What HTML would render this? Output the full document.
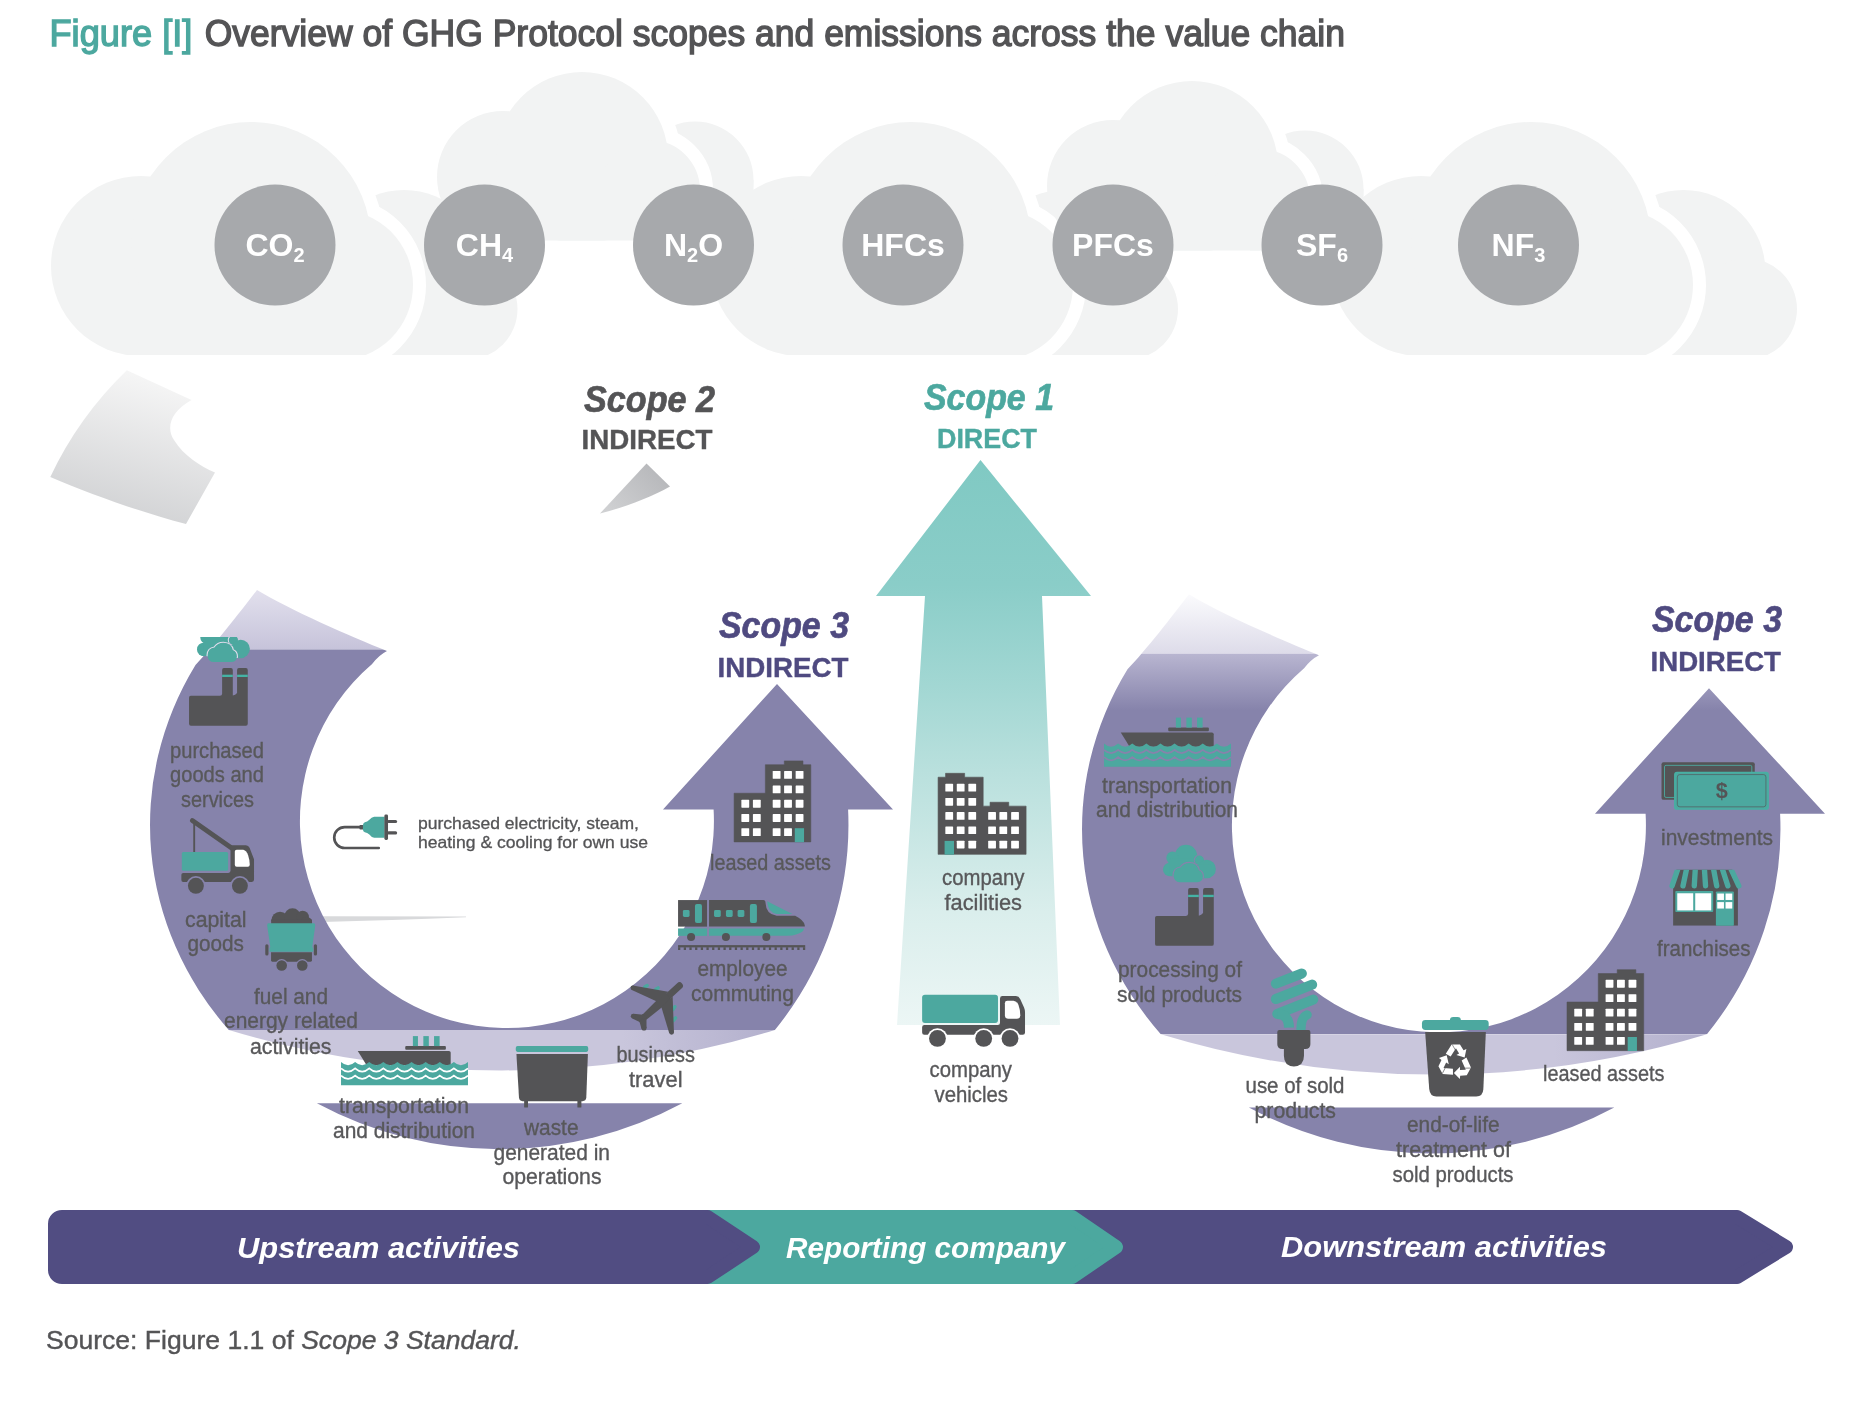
<!DOCTYPE html>
<html lang="en"><head><meta charset="utf-8">
<title>Overview of GHG Protocol scopes and emissions across the value chain</title>
<style>
html,body{margin:0;padding:0;background:#fff;}
body{width:1864px;height:1404px;overflow:hidden;font-family:"Liberation Sans", sans-serif;}
svg{display:block;will-change:transform;}
svg text{font-family:"Liberation Sans", sans-serif;}
</style></head><body>
<svg width="1864" height="1404" viewBox="0 0 1864 1404">
<defs>
<g id="cA"><circle cx="141" cy="266" r="90"/><circle cx="251" cy="242" r="120"/>
<circle cx="337.4" cy="285" r="75.6"/><rect x="141" y="250" width="196" height="120"/></g>
<g id="cB"><circle cx="404" cy="272" r="82"/><circle cx="467" cy="309" r="50.5"/>
<rect x="340" y="272" width="127" height="100"/></g>
<g id="cC"><circle cx="503" cy="177" r="66"/><circle cx="582" cy="158" r="86"/>
<circle cx="650" cy="190" r="50"/><rect x="503" y="170" width="147" height="90"/></g>
<g id="cD"><circle cx="695" cy="180" r="58.5"/><rect x="640" y="180" width="113.5" height="80"/></g>
<clipPath id="clipLow"><rect x="0" y="0" width="1864" height="355"/></clipPath>
<clipPath id="clipUp1"><rect x="0" y="0" width="1864" height="240.5"/></clipPath>
<clipPath id="clipUp2"><rect x="0" y="0" width="1864" height="250.5"/></clipPath>
<clipPath id="olA"><rect x="352" y="150" width="120" height="220"/></clipPath>
<clipPath id="olC"><rect x="655" y="90" width="90" height="170"/></clipPath>
</defs>
<g clip-path="url(#clipLow)">
<g transform="translate(0,0)"><use href="#cB" fill="#f2f3f3"/></g>
<g transform="translate(660.5,0)"><use href="#cB" fill="#f2f3f3"/></g>
<g transform="translate(1279.5,0)"><use href="#cB" fill="#f2f3f3"/></g>
</g>
<g clip-path="url(#clipUp1)"><g transform="translate(0,0)"><use href="#cD" fill="#f2f3f3"/></g></g>
<g clip-path="url(#clipUp2)"><g transform="translate(610,9)"><use href="#cD" fill="#f2f3f3"/></g></g>
<g clip-path="url(#clipLow)">
<g transform="translate(0,0)"><use href="#cA" fill="#fff" stroke="#fff" stroke-width="26" stroke-linejoin="round" clip-path="url(#olA)"/><use href="#cA" fill="#f2f3f3"/></g>
<g transform="translate(660,0)"><use href="#cA" fill="#fff" stroke="#fff" stroke-width="26" stroke-linejoin="round" clip-path="url(#olA)"/><use href="#cA" fill="#f2f3f3"/></g>
<g transform="translate(1280,0)"><use href="#cA" fill="#fff" stroke="#fff" stroke-width="26" stroke-linejoin="round" clip-path="url(#olA)"/><use href="#cA" fill="#f2f3f3"/></g>
</g>
<g clip-path="url(#clipUp1)"><g transform="translate(0,0)"><use href="#cC" fill="#fff" stroke="#fff" stroke-width="26" stroke-linejoin="round" clip-path="url(#olC)"/><use href="#cC" fill="#f2f3f3"/></g></g>
<g clip-path="url(#clipUp2)"><g transform="translate(610,9)"><use href="#cC" fill="#fff" stroke="#fff" stroke-width="26" stroke-linejoin="round" clip-path="url(#olC)"/><use href="#cC" fill="#f2f3f3"/></g></g>
<circle cx="275" cy="245" r="60.5" fill="#a7a9ac"/>
<text x="275" y="256.3" text-anchor="middle" font-size="32" font-weight="bold" fill="#fff">CO<tspan font-size="20" dy="6">2</tspan></text>
<circle cx="484.5" cy="245" r="60.5" fill="#a7a9ac"/>
<text x="484.5" y="256.3" text-anchor="middle" font-size="32" font-weight="bold" fill="#fff">CH<tspan font-size="20" dy="6">4</tspan></text>
<circle cx="693.5" cy="245" r="60.5" fill="#a7a9ac"/>
<text x="693.5" y="256.3" text-anchor="middle" font-size="32" font-weight="bold" fill="#fff">N<tspan font-size="20" dy="6">2</tspan><tspan dy="-6">O</tspan></text>
<circle cx="903" cy="245" r="60.5" fill="#a7a9ac"/>
<text x="903" y="256.3" text-anchor="middle" font-size="32" font-weight="bold" fill="#fff">HFCs</text>
<circle cx="1113" cy="245" r="60.5" fill="#a7a9ac"/>
<text x="1113" y="256.3" text-anchor="middle" font-size="32" font-weight="bold" fill="#fff">PFCs</text>
<circle cx="1322" cy="245" r="60.5" fill="#a7a9ac"/>
<text x="1322" y="256.3" text-anchor="middle" font-size="32" font-weight="bold" fill="#fff">SF<tspan font-size="20" dy="6">6</tspan></text>
<circle cx="1518.5" cy="245" r="60.5" fill="#a7a9ac"/>
<text x="1518.5" y="256.3" text-anchor="middle" font-size="32" font-weight="bold" fill="#fff">NF<tspan font-size="20" dy="6">3</tspan></text>
<defs>
<linearGradient id="gS1" gradientUnits="userSpaceOnUse" x1="0" y1="460" x2="0" y2="1025">
<stop offset="0" stop-color="#80c9c3"/><stop offset="0.22" stop-color="#8acdc8"/>
<stop offset="0.4" stop-color="#a2d7d3"/><stop offset="0.55" stop-color="#b9e0dd"/><stop offset="0.8" stop-color="#daeeec"/>
<stop offset="1" stop-color="#ecf6f5"/></linearGradient>
<linearGradient id="gTailL" gradientUnits="userSpaceOnUse" x1="0" y1="590" x2="0" y2="650">
<stop offset="0" stop-color="#e2e0ed"/><stop offset="1" stop-color="#c6c3da"/></linearGradient>
<linearGradient id="gTailR" gradientUnits="userSpaceOnUse" x1="0" y1="590" x2="0" y2="650">
<stop offset="0" stop-color="#fbfbfd"/><stop offset="1" stop-color="#dddbe9"/></linearGradient>
<linearGradient id="gBodyR" gradientUnits="userSpaceOnUse" x1="0" y1="649" x2="0" y2="706">
<stop offset="0" stop-color="#b9b6d1"/><stop offset="1" stop-color="#8683ab"/></linearGradient>
<linearGradient id="gBand" gradientUnits="userSpaceOnUse" x1="228" y1="0" x2="775" y2="0"><stop offset="0" stop-color="#c9c6dc"/><stop offset="0.72" stop-color="#c9c6dc"/><stop offset="1" stop-color="#b3b0cd"/></linearGradient>
<linearGradient id="gS2b" gradientUnits="userSpaceOnUse" x1="655" y1="470" x2="610" y2="512"><stop offset="0" stop-color="#b8b9bc"/><stop offset="1" stop-color="#cfd0d2"/></linearGradient>
<linearGradient id="gS2" gradientUnits="userSpaceOnUse" x1="150" y1="375" x2="110" y2="520">
<stop offset="0" stop-color="#f6f6f6"/><stop offset="1" stop-color="#d0d1d3"/></linearGradient>
<clipPath id="uclip"><path d="M257,590 C240,612 214,646 195.5,665 A349,324 0 0 0 228.8,1030 L774.9,1030 A349.5,334.4 0 0 0 848.1,809.5 L893,809.5 L777,684 L663,809.5 L713.6,809.5 A207,207 0 1 1 372.1,664 Q379,655 387,651 C350,636 290,610 257,590 Z"/></clipPath>
</defs>
<path d="M126.8,370.3 L191.5,400 C170,412 166,428 174,440 C184,456 200,466 215,472.5 L186,524 C140,512 90,494 50.3,477 Q78.5,417 126.8,370.3 Z" fill="url(#gS2)"/>
<path d="M646.5,463.5 L670,486.5 C650,498 622,508 600,513.5 Z" fill="url(#gS2b)"/>
<path d="M322,916.3 L466,916.6 L466,917.3 Q390,920.5 322,922 Z" fill="#d8d9db"/>
<path d="M980.5,460 L1091,596 L1042,596 L1060,1025 L897,1025 L925,596 L876,596 Z" fill="url(#gS1)"/>
<g transform="translate(0,0)"><g clip-path="url(#uclip)"><rect x="140" y="580" width="770" height="69.5" fill="url(#gTailL)"/><rect x="140" y="649.5" width="770" height="381" fill="#8683ab"/></g><path d="M228.8,1030 L774.9,1030 A943,943 0 0 1 228.8,1030 Z" fill="url(#gBand)"/><path d="M316.9,1103.3 A386.6,386.6 0 0 0 682.3,1103.3 Z" fill="#8683ab"/></g>
<g transform="translate(932,4.2)"><g clip-path="url(#uclip)"><rect x="140" y="580" width="770" height="69.5" fill="url(#gTailR)"/><rect x="140" y="649.5" width="770" height="381" fill="url(#gBodyR)"/></g><path d="M228.8,1030 L774.9,1030 A943,943 0 0 1 228.8,1030 Z" fill="url(#gBand)"/><path d="M316.9,1103.3 A386.6,386.6 0 0 0 682.3,1103.3 Z" fill="#8683ab"/></g>
<path d="M1040,1217 L1737.1,1217 L1786,1247.0 L1737.1,1277 L1040,1277 Z" fill="#514d82" stroke="#514d82" stroke-width="14" stroke-linejoin="round"/>
<path d="M690,1217 L1072.1,1217 L1116,1247.0 L1072.1,1277 L690,1277 Z" fill="#4ca89f" stroke="#4ca89f" stroke-width="14" stroke-linejoin="round"/>
<path d="M62,1217 L707.6,1217 L753,1247.0 L707.6,1277 L62,1277 A7,7 0 0 1 55,1270 L55,1224 A7,7 0 0 1 62,1217 Z" fill="#514d82" stroke="#514d82" stroke-width="14" stroke-linejoin="round"/>
<g transform="translate(1130,830) scale(0.085470)" ><clipPath id="fl1130"><circle cx="655" cy="302" r="130"/><circle cx="497" cy="325" r="72"/><circle cx="465" cy="462" r="79"/><rect x="465" y="330" width="300" height="211" rx="30"/></clipPath><clipPath id="fb1130"><circle cx="655" cy="302" r="130"/><circle cx="497" cy="325" r="72"/><circle cx="465" cy="462" r="79"/><rect x="465" y="330" width="300" height="211" rx="30"/><circle cx="812" cy="353" r="54"/><circle cx="898" cy="456" r="107"/><rect x="780" y="400" width="170" height="165" rx="40"/></clipPath><g fill="#4ca89f"><circle cx="655" cy="302" r="130"/><circle cx="497" cy="325" r="72"/><circle cx="465" cy="462" r="79"/><rect x="465" y="330" width="300" height="211" rx="30"/></g><g clip-path="url(#fl1130)" fill="none" stroke="#8683ab" stroke-width="24"><circle cx="812" cy="353" r="54"/><circle cx="898" cy="456" r="107"/><rect x="780" y="400" width="170" height="165" rx="40"/></g><g fill="#4ca89f"><circle cx="812" cy="353" r="54"/><circle cx="898" cy="456" r="107"/><rect x="780" y="400" width="170" height="165" rx="40"/></g><g clip-path="url(#fb1130)"><path d="M585,610 Q510,610 510,530 Q512,450 590,440 Q625,385 695,385 Q790,390 805,470 Q853,490 853,545 Q850,610 785,610 Z" fill="none" stroke="#8683ab" stroke-width="26"/></g><path d="M585,610 Q510,610 510,530 Q512,450 590,440 Q625,385 695,385 Q790,390 805,470 Q853,490 853,545 Q850,610 785,610 Z" fill="#4ca89f"/><path d="M313,1005 H655 Q680,1005 680,980 V702 Q680,680 702,680 H783 Q805,680 805,702 V1002 Q835,1000 855,972 V702 Q855,680 877,680 H958 Q980,680 980,702 V1333 Q980,1355 958,1355 H315 Q293,1355 293,1333 V1027 Q293,1005 313,1005 Z" fill="#545456"/><rect x="680" y="758" width="125" height="27" fill="#45b3a5"/><rect x="855" y="758" width="125" height="27" fill="#45b3a5"/></g>
<g transform="translate(164,609.9) scale(0.085470)" ><clipPath id="fc164"><rect x="0" y="318" width="1600" height="1600"/></clipPath><g clip-path="url(#fc164)"><clipPath id="fl164"><circle cx="655" cy="302" r="130"/><circle cx="497" cy="325" r="72"/><circle cx="465" cy="462" r="79"/><rect x="465" y="330" width="300" height="211" rx="30"/></clipPath><clipPath id="fb164"><circle cx="655" cy="302" r="130"/><circle cx="497" cy="325" r="72"/><circle cx="465" cy="462" r="79"/><rect x="465" y="330" width="300" height="211" rx="30"/><circle cx="812" cy="353" r="54"/><circle cx="898" cy="456" r="107"/><rect x="780" y="400" width="170" height="165" rx="40"/></clipPath><g fill="#4ca89f"><circle cx="655" cy="302" r="130"/><circle cx="497" cy="325" r="72"/><circle cx="465" cy="462" r="79"/><rect x="465" y="330" width="300" height="211" rx="30"/></g><g clip-path="url(#fl164)" fill="none" stroke="#dedbeb" stroke-width="24"><circle cx="812" cy="353" r="54"/><circle cx="898" cy="456" r="107"/><rect x="780" y="400" width="170" height="165" rx="40"/></g><g fill="#4ca89f"><circle cx="812" cy="353" r="54"/><circle cx="898" cy="456" r="107"/><rect x="780" y="400" width="170" height="165" rx="40"/></g><g clip-path="url(#fb164)"><path d="M585,610 Q510,610 510,530 Q512,450 590,440 Q625,385 695,385 Q790,390 805,470 Q853,490 853,545 Q850,610 785,610 Z" fill="none" stroke="#dedbeb" stroke-width="26"/></g><path d="M585,610 Q510,610 510,530 Q512,450 590,440 Q625,385 695,385 Q790,390 805,470 Q853,490 853,545 Q850,610 785,610 Z" fill="#4ca89f"/></g><path d="M313,1005 H655 Q680,1005 680,980 V702 Q680,680 702,680 H783 Q805,680 805,702 V1002 Q835,1000 855,972 V702 Q855,680 877,680 H958 Q980,680 980,702 V1333 Q980,1355 958,1355 H315 Q293,1355 293,1333 V1027 Q293,1005 313,1005 Z" fill="#545456"/><rect x="680" y="758" width="125" height="27" fill="#45b3a5"/><rect x="855" y="758" width="125" height="27" fill="#45b3a5"/></g>
<g transform="translate(160,805) scale(0.085470)" ><line x1="378" y1="182" x2="850" y2="512" stroke="#545456" stroke-width="56" stroke-linecap="round"/><line x1="400" y1="200" x2="400" y2="560" stroke="#545456" stroke-width="22"/><rect x="255" y="550" width="542" height="220" rx="18" fill="#4ca89f"/><path d="M272,795 H800 Q825,795 825,770 V497 Q825,470 852,470 H1005 Q1035,470 1048,500 L1100,635 V875 Q1100,900 1075,900 H272 Q250,900 250,878 V817 Q250,795 272,795Z" fill="#545456"/><circle cx="420" cy="945" r="114" fill="#8683ab"/><circle cx="935" cy="945" r="114" fill="#8683ab"/><circle cx="420" cy="945" r="93" fill="#545456"/><circle cx="935" cy="945" r="93" fill="#545456"/><path d="M897,525 H975 Q1012,535 1032,590 Q1050,640 1050,700 Q1050,722 1028,722 H897 Q875,722 875,700 V547 Q875,525 897,525Z" fill="#fff"/></g>
<g transform="translate(235,895) scale(0.064392)" ><g fill="#545456"><circle cx="700" cy="395" r="135"/><circle cx="893" cy="335" r="128"/><circle cx="1050" cy="342" r="98"/><circle cx="1108" cy="425" r="88"/><rect x="562" y="380" width="633" height="75"/><path d="M560,890 H1195 V1015 Q1195,1035 1175,1035 H580 Q560,1035 560,1015 Z"/><rect x="470" y="765" width="50" height="175" rx="25"/><rect x="1224" y="765" width="50" height="175" rx="25"/></g><path d="M522,440 H1222 Q1250,440 1246,478 L1200,805 L1215,830 V880 H535 V830 L548,805 L500,478 Q496,440 522,440Z" fill="#4ca89f"/><circle cx="725" cy="1095" r="100" fill="#8683ab"/><circle cx="1045" cy="1095" r="100" fill="#8683ab"/><circle cx="725" cy="1095" r="82" fill="#545456"/><circle cx="1045" cy="1095" r="82" fill="#545456"/></g>
<g transform="translate(330,1025) scale(0.080470)" ><path d="M345,322 H1478 Q1500,322 1500,345 V500 H455 Z" fill="#545456"/><rect x="935" y="262" width="505" height="46" rx="12" fill="#545456"/><rect x="1030" y="138" width="63" height="124" fill="#4ca89f"/><rect x="1160" y="138" width="68" height="124" fill="#4ca89f"/><rect x="1293" y="138" width="69" height="124" fill="#4ca89f"/><path d="M137,460 q87.7,80 175.3,0 q87.7,80 175.3,0 q87.7,80 175.3,0 q87.7,80 175.3,0 q87.7,80 175.3,0 q87.7,80 175.3,0 q87.7,80 175.3,0 q87.7,80 175.3,0 q87.7,80 175.3,0 V750 H137 Z" fill="#4ca89f"/><path d="M137,540 q87.7,80 175.3,0 q87.7,80 175.3,0 q87.7,80 175.3,0 q87.7,80 175.3,0 q87.7,80 175.3,0 q87.7,80 175.3,0 q87.7,80 175.3,0 q87.7,80 175.3,0 q87.7,80 175.3,0" fill="none" stroke="#fff" stroke-width="22"/><path d="M137,630 q87.7,80 175.3,0 q87.7,80 175.3,0 q87.7,80 175.3,0 q87.7,80 175.3,0 q87.7,80 175.3,0 q87.7,80 175.3,0 q87.7,80 175.3,0 q87.7,80 175.3,0 q87.7,80 175.3,0" fill="none" stroke="#fff" stroke-width="22"/></g>
<g transform="translate(1093,706.5) scale(0.080470)" ><path d="M345,322 H1478 Q1500,322 1500,345 V500 H455 Z" fill="#545456"/><rect x="935" y="262" width="505" height="46" rx="12" fill="#545456"/><rect x="1030" y="138" width="63" height="124" fill="#4ca89f"/><rect x="1160" y="138" width="68" height="124" fill="#4ca89f"/><rect x="1293" y="138" width="69" height="124" fill="#4ca89f"/><path d="M137,460 q87.7,80 175.3,0 q87.7,80 175.3,0 q87.7,80 175.3,0 q87.7,80 175.3,0 q87.7,80 175.3,0 q87.7,80 175.3,0 q87.7,80 175.3,0 q87.7,80 175.3,0 q87.7,80 175.3,0 V750 H137 Z" fill="#4ca89f"/><path d="M137,540 q87.7,80 175.3,0 q87.7,80 175.3,0 q87.7,80 175.3,0 q87.7,80 175.3,0 q87.7,80 175.3,0 q87.7,80 175.3,0 q87.7,80 175.3,0 q87.7,80 175.3,0 q87.7,80 175.3,0" fill="none" stroke="#8683ab" stroke-width="22"/><path d="M137,630 q87.7,80 175.3,0 q87.7,80 175.3,0 q87.7,80 175.3,0 q87.7,80 175.3,0 q87.7,80 175.3,0 q87.7,80 175.3,0 q87.7,80 175.3,0 q87.7,80 175.3,0 q87.7,80 175.3,0" fill="none" stroke="#8683ab" stroke-width="22"/></g>
<g transform="translate(500,1030) scale(0.064392)" ><rect x="245" y="250" width="1125" height="90" rx="28" fill="#4ca89f"/><path d="M255,372 H1365 L1340,1050 Q1335,1105 1280,1105 H350 Q300,1105 295,1050 Z" fill="#545456"/><rect x="375" y="1090" width="60" height="115" rx="10" fill="#545456"/><rect x="1202" y="1090" width="62" height="115" rx="10" fill="#545456"/></g>
<g transform="translate(610,965) scale(0.060533)" ><g stroke="#4ca89f" stroke-width="58" stroke-linecap="round"><line x1="575" y1="365" x2="615" y2="340"/><line x1="755" y1="405" x2="795" y2="378"/><line x1="1040" y1="735" x2="1072" y2="690"/><line x1="1045" y1="920" x2="1082" y2="875"/></g><g fill="#545456"><line x1="1148" y1="342" x2="900" y2="570" stroke="#545456" stroke-width="112" stroke-linecap="round"/><path d="M905,450 L1015,575 L600,905 L530,828 Z"/><path d="M535,810 L615,880 L480,945 Z"/><path d="M960,440 L378,338 L352,408 L775,605 Z"/><circle cx="376" cy="374" r="37"/><path d="M1035,515 L1056,1108 L978,1122 L848,695 Z"/><circle cx="1017" cy="1112" r="40"/><path d="M555,822 L388,806 L368,882 L498,945 Z"/><circle cx="384" cy="845" r="40"/><path d="M603,872 L603,1042 L520,1052 L485,930 Z"/><circle cx="562" cy="1042" r="42"/></g></g>
<g transform="translate(668,890) scale(0.080470)" ><rect x="125" y="125" width="360" height="330" fill="#545456"/><path d="M510,125 H1185 Q1210,125 1212,160 Q1218,300 1350,320 H1580 Q1690,375 1700,440 V455 H510 Z" fill="#545456"/><rect x="125" y="478" width="360" height="92" fill="#4ca89f"/><path d="M510,478 H1690 Q1690,520 1600,550 Q1550,570 1480,570 H510 Z" fill="#4ca89f"/><path d="M1232,140 L1545,298 H1350 Q1240,280 1232,140 Z" fill="#4ca89f"/><rect x="185" y="250" width="83" height="85" rx="18" fill="#4ca89f"/><rect x="335" y="175" width="87" height="235" rx="24" fill="#4ca89f"/><rect x="572" y="250" width="84" height="85" rx="18" fill="#4ca89f"/><rect x="720" y="250" width="84" height="85" rx="18" fill="#4ca89f"/><rect x="865" y="250" width="84" height="85" rx="18" fill="#4ca89f"/><rect x="1018" y="175" width="87" height="235" rx="24" fill="#4ca89f"/><circle cx="287" cy="583" r="50" fill="#545456"/><circle cx="720" cy="583" r="50" fill="#545456"/><circle cx="1222" cy="583" r="50" fill="#545456"/><rect x="125" y="685" width="1580" height="28" fill="#545456"/><line x1="125" y1="728" x2="1705" y2="728" stroke="#545456" stroke-width="34" stroke-dasharray="28 42.55"/></g>
<g transform="translate(720,750) scale(0.071225)" ><path d="M198,607 H637 V207 H903 V153 H1165 V207 H1275 V1290 H198 Z" fill="#545456" stroke="#545456" stroke-width="8" stroke-linejoin="round"/><rect x="740" y="295" width="110" height="110" rx="8" fill="#fff"/><rect x="900" y="295" width="110" height="110" rx="8" fill="#fff"/><rect x="1062" y="295" width="110" height="110" rx="8" fill="#fff"/><rect x="740" y="497" width="110" height="110" rx="8" fill="#fff"/><rect x="900" y="497" width="110" height="110" rx="8" fill="#fff"/><rect x="1062" y="497" width="110" height="110" rx="8" fill="#fff"/><rect x="740" y="700" width="110" height="110" rx="8" fill="#fff"/><rect x="900" y="700" width="110" height="110" rx="8" fill="#fff"/><rect x="1062" y="700" width="110" height="110" rx="8" fill="#fff"/><rect x="740" y="900" width="110" height="110" rx="8" fill="#fff"/><rect x="900" y="900" width="110" height="110" rx="8" fill="#fff"/><rect x="1062" y="900" width="110" height="110" rx="8" fill="#fff"/><rect x="740" y="1098" width="110" height="110" rx="8" fill="#fff"/><rect x="900" y="1098" width="110" height="110" rx="8" fill="#fff"/><rect x="300" y="700" width="110" height="110" rx="8" fill="#fff"/><rect x="462" y="700" width="110" height="110" rx="8" fill="#fff"/><rect x="300" y="900" width="110" height="110" rx="8" fill="#fff"/><rect x="462" y="900" width="110" height="110" rx="8" fill="#fff"/><rect x="300" y="1098" width="110" height="110" rx="8" fill="#fff"/><rect x="462" y="1098" width="110" height="110" rx="8" fill="#fff"/><rect x="1050" y="1098" width="130" height="196" fill="#4ca89f"/></g>
<g transform="translate(1552.9,958.8) scale(0.071225)" ><path d="M198,607 H637 V207 H903 V153 H1165 V207 H1275 V1290 H198 Z" fill="#545456" stroke="#545456" stroke-width="8" stroke-linejoin="round"/><rect x="740" y="295" width="110" height="110" rx="8" fill="#fff"/><rect x="900" y="295" width="110" height="110" rx="8" fill="#fff"/><rect x="1062" y="295" width="110" height="110" rx="8" fill="#fff"/><rect x="740" y="497" width="110" height="110" rx="8" fill="#fff"/><rect x="900" y="497" width="110" height="110" rx="8" fill="#fff"/><rect x="1062" y="497" width="110" height="110" rx="8" fill="#fff"/><rect x="740" y="700" width="110" height="110" rx="8" fill="#fff"/><rect x="900" y="700" width="110" height="110" rx="8" fill="#fff"/><rect x="1062" y="700" width="110" height="110" rx="8" fill="#fff"/><rect x="740" y="900" width="110" height="110" rx="8" fill="#fff"/><rect x="900" y="900" width="110" height="110" rx="8" fill="#fff"/><rect x="1062" y="900" width="110" height="110" rx="8" fill="#fff"/><rect x="740" y="1098" width="110" height="110" rx="8" fill="#fff"/><rect x="900" y="1098" width="110" height="110" rx="8" fill="#fff"/><rect x="300" y="700" width="110" height="110" rx="8" fill="#fff"/><rect x="462" y="700" width="110" height="110" rx="8" fill="#fff"/><rect x="300" y="900" width="110" height="110" rx="8" fill="#fff"/><rect x="462" y="900" width="110" height="110" rx="8" fill="#fff"/><rect x="300" y="1098" width="110" height="110" rx="8" fill="#fff"/><rect x="462" y="1098" width="110" height="110" rx="8" fill="#fff"/><rect x="1050" y="1098" width="130" height="196" fill="#4ca89f"/></g>
<g transform="translate(925,760) scale(0.074772)" ><path d="M175,230 H275 V178 H530 V230 H778 V617 H870 V565 H1120 V617 H1352 V1262 H175 Z" fill="#545456" stroke="#545456" stroke-width="8" stroke-linejoin="round"/><rect x="272" y="318" width="104" height="103" rx="8" fill="#fff"/><rect x="425" y="318" width="104" height="103" rx="8" fill="#fff"/><rect x="580" y="318" width="104" height="103" rx="8" fill="#fff"/><rect x="272" y="508" width="104" height="103" rx="8" fill="#fff"/><rect x="425" y="508" width="104" height="103" rx="8" fill="#fff"/><rect x="580" y="508" width="104" height="103" rx="8" fill="#fff"/><rect x="272" y="697" width="104" height="103" rx="8" fill="#fff"/><rect x="425" y="697" width="104" height="103" rx="8" fill="#fff"/><rect x="580" y="697" width="104" height="103" rx="8" fill="#fff"/><rect x="272" y="888" width="104" height="103" rx="8" fill="#fff"/><rect x="425" y="888" width="104" height="103" rx="8" fill="#fff"/><rect x="580" y="888" width="104" height="103" rx="8" fill="#fff"/><rect x="425" y="1080" width="104" height="103" rx="8" fill="#fff"/><rect x="580" y="1080" width="104" height="103" rx="8" fill="#fff"/><rect x="845" y="697" width="104" height="103" rx="8" fill="#fff"/><rect x="995" y="697" width="104" height="103" rx="8" fill="#fff"/><rect x="1152" y="697" width="104" height="103" rx="8" fill="#fff"/><rect x="845" y="888" width="104" height="103" rx="8" fill="#fff"/><rect x="995" y="888" width="104" height="103" rx="8" fill="#fff"/><rect x="1152" y="888" width="104" height="103" rx="8" fill="#fff"/><rect x="845" y="1080" width="104" height="103" rx="8" fill="#fff"/><rect x="995" y="1080" width="104" height="103" rx="8" fill="#fff"/><rect x="1152" y="1080" width="104" height="103" rx="8" fill="#fff"/><rect x="262" y="1082" width="126" height="184" fill="#4ca89f"/></g>
<g transform="translate(905,980) scale(0.075109)" ><rect x="228" y="197" width="1010" height="375" rx="38" fill="#4ca89f"/><path d="M258,600 H1235 Q1265,600 1265,570 V245 Q1265,212 1298,212 H1475 Q1515,212 1535,255 L1585,365 Q1598,395 1598,430 V698 Q1598,728 1568,728 H258 Q228,728 228,698 V630 Q228,600 258,600Z" fill="#545456"/><path d="M1362,275 H1445 Q1490,280 1510,330 Q1535,400 1535,470 Q1535,515 1490,515 H1375 Q1330,515 1330,470 V308 Q1330,275 1362,275 Z" fill="#fff"/><circle cx="432" cy="778" r="136" fill="#fff"/><circle cx="1048" cy="778" r="136" fill="#fff"/><circle cx="1398" cy="778" r="136" fill="#fff"/><circle cx="432" cy="778" r="112" fill="#545456"/><circle cx="1048" cy="778" r="112" fill="#545456"/><circle cx="1398" cy="778" r="112" fill="#545456"/></g>
<g transform="translate(320,800) scale(0.053648)" ><path d="M770,505 H460 A195,195 0 0 0 460,895 H1095" fill="none" stroke="#545456" stroke-width="50" stroke-linecap="round"/><rect x="735" y="465" width="80" height="85" rx="18" fill="#545456"/><path d="M1205,310 H1010 Q960,315 920,370 Q880,410 835,415 Q800,430 800,470 V550 Q800,590 835,600 Q880,605 920,645 Q960,700 1010,705 H1205 Z" fill="#4ca89f"/><rect x="1200" y="270" width="68" height="475" rx="26" fill="#545456"/><rect x="1250" y="372" width="188" height="58" rx="28" fill="#545456"/><rect x="1250" y="583" width="188" height="59" rx="28" fill="#545456"/></g>
<g transform="translate(1245,955) scale(0.085470)" ><g stroke="#4ca89f" stroke-width="118" stroke-linecap="round" fill="none"><line x1="362" y1="335" x2="665" y2="217"/><line x1="362" y1="515" x2="785" y2="347"/><line x1="378" y1="690" x2="798" y2="522"/><path d="M378,690 C470,695 512,740 515,850" stroke-linecap="butt"/><path d="M727,700 C685,715 655,765 655,870" stroke-width="108"/></g><rect x="440" y="820" width="280" height="70" fill="none"/><path d="M402,878 H743 Q765,878 765,900 V1045 Q765,1100 705,1100 H690 V1180 Q690,1300 572,1305 Q455,1300 455,1180 V1100 H438 Q378,1100 378,1045 V900 Q378,878 402,878 Z" fill="#545456"/></g>
<g transform="translate(1405,1005) scale(0.071225)" ><rect x="630" y="168" width="155" height="100" rx="48" fill="#4ca89f"/><rect x="238" y="212" width="937" height="138" rx="48" fill="#4ca89f"/><path d="M283,380 H1135 L1100,1180 Q1095,1285 1000,1285 H440 Q350,1285 340,1180 Z" fill="#545456"/><g transform="translate(703,800) scale(0.93,1)"><g transform="rotate(0)"><path d="M-140,-117 L-52,-247 L74,-247 L128,-163 L171,-182 L144,-63 L20,-98 L61,-120 L13,-194 L-67,-76 Z" fill="#fff"/><path d="M-44,-247 L30,-124" stroke="#545456" stroke-width="9" fill="none"/></g><g transform="rotate(120)"><path d="M-140,-117 L-52,-247 L74,-247 L128,-163 L171,-182 L144,-63 L20,-98 L61,-120 L13,-194 L-67,-76 Z" fill="#fff"/><path d="M-44,-247 L30,-124" stroke="#545456" stroke-width="9" fill="none"/></g><g transform="rotate(240)"><path d="M-140,-117 L-52,-247 L74,-247 L128,-163 L171,-182 L144,-63 L20,-98 L61,-120 L13,-194 L-67,-76 Z" fill="#fff"/><path d="M-44,-247 L30,-124" stroke="#545456" stroke-width="9" fill="none"/></g></g></g>
<g transform="translate(1655,860) scale(0.053648)" ><rect x="338" y="500" width="1207" height="722" fill="#545456"/><path d="M400,180 H1440 L1570,520 H310 Z" fill="#545456"/><clipPath id="shopclip"><rect x="0" y="180" width="1900" height="1200"/></clipPath><g clip-path="url(#shopclip)"><line x1="432" y1="150" x2="318" y2="482" stroke="#4ca89f" stroke-width="100" stroke-linecap="round"/><line x1="592" y1="150" x2="522" y2="482" stroke="#4ca89f" stroke-width="100" stroke-linecap="round"/><line x1="752" y1="150" x2="732" y2="482" stroke="#4ca89f" stroke-width="100" stroke-linecap="round"/><line x1="920" y1="150" x2="942" y2="482" stroke="#4ca89f" stroke-width="100" stroke-linecap="round"/><line x1="1088" y1="150" x2="1150" y2="482" stroke="#4ca89f" stroke-width="100" stroke-linecap="round"/><line x1="1250" y1="150" x2="1358" y2="482" stroke="#4ca89f" stroke-width="100" stroke-linecap="round"/><line x1="1408" y1="150" x2="1562" y2="482" stroke="#4ca89f" stroke-width="100" stroke-linecap="round"/></g><rect x="378" y="580" width="707" height="388" rx="16" fill="#4ca89f"/><rect x="415" y="620" width="297" height="320" fill="#fff"/><rect x="750" y="620" width="298" height="320" fill="#fff"/><rect x="1135" y="585" width="335" height="640" rx="16" fill="#4ca89f"/><rect x="1160" y="625" width="125" height="120" fill="#fff"/><rect x="1160" y="785" width="125" height="120" fill="#fff"/><rect x="1315" y="625" width="125" height="120" fill="#fff"/><rect x="1315" y="785" width="125" height="120" fill="#fff"/></g>
<g transform="translate(1650,750) scale(0.069745)" ><rect x="165" y="175" width="1337" height="540" rx="28" fill="#545456"/><rect x="208" y="220" width="1252" height="460" rx="22" fill="none" stroke="#4ca89f" stroke-width="13"/><rect x="345" y="312" width="1360" height="546" rx="42" fill="#47b0a3"/><rect x="365" y="330" width="1320" height="510" rx="38" fill="#4ca89f"/><rect x="392" y="352" width="1270" height="463" rx="36" fill="none" stroke="#545456" stroke-width="9"/><text x="1030" y="690" text-anchor="middle" font-size="310" font-weight="bold" fill="#545456">$</text></g>
<text x="49.5" y="46.0" font-size="36.5" fill="#4ca89f" font-weight="normal" font-style="normal" textLength="142.8" lengthAdjust="spacingAndGlyphs" stroke="#4ca89f" stroke-width="1.4">Figure [I]</text>
<text x="204.7" y="46.0" font-size="36.5" fill="#545456" font-weight="normal" font-style="normal" textLength="1140.3" lengthAdjust="spacingAndGlyphs" stroke="#545456" stroke-width="1.4">Overview of GHG Protocol scopes and emissions across the value chain</text>
<text x="46" y="1348.5" font-size="26" fill="#545456" stroke="#545456" stroke-width="0.4" textLength="475" lengthAdjust="spacingAndGlyphs">Source: Figure 1.1 of <tspan font-style="italic">Scope 3 Standard.</tspan></text>
<text x="584.0" y="411.5" font-size="37" fill="#545456" font-weight="bold" font-style="italic" textLength="131.0" lengthAdjust="spacingAndGlyphs" stroke="#545456" stroke-width="0.7">Scope 2</text>
<text x="581.5" y="449.0" font-size="28" fill="#545456" font-weight="bold" font-style="normal" textLength="131.0" lengthAdjust="spacingAndGlyphs" stroke="#545456" stroke-width="0.4">INDIRECT</text>
<text x="924.0" y="410.0" font-size="37" fill="#4ca89f" font-weight="bold" font-style="italic" textLength="130.0" lengthAdjust="spacingAndGlyphs" stroke="#4ca89f" stroke-width="0.7">Scope 1</text>
<text x="937.0" y="448.0" font-size="28" fill="#4ca89f" font-weight="bold" font-style="normal" textLength="100.0" lengthAdjust="spacingAndGlyphs" stroke="#4ca89f" stroke-width="0.4">DIRECT</text>
<text x="719.0" y="638.0" font-size="37" fill="#4f4a80" font-weight="bold" font-style="italic" textLength="130.0" lengthAdjust="spacingAndGlyphs" stroke="#4f4a80" stroke-width="0.7">Scope 3</text>
<text x="717.5" y="676.5" font-size="28" fill="#4f4a80" font-weight="bold" font-style="normal" textLength="131.0" lengthAdjust="spacingAndGlyphs" stroke="#4f4a80" stroke-width="0.4">INDIRECT</text>
<text x="1652.0" y="632.0" font-size="37" fill="#4f4a80" font-weight="bold" font-style="italic" textLength="130.0" lengthAdjust="spacingAndGlyphs" stroke="#4f4a80" stroke-width="0.7">Scope 3</text>
<text x="1650.5" y="671.0" font-size="28" fill="#4f4a80" font-weight="bold" font-style="normal" textLength="130.5" lengthAdjust="spacingAndGlyphs" stroke="#4f4a80" stroke-width="0.4">INDIRECT</text>
<text x="237.0" y="1258.0" font-size="30" fill="#fff" font-weight="bold" font-style="italic" textLength="283.0" lengthAdjust="spacingAndGlyphs" >Upstream activities</text>
<text x="786.0" y="1258.0" font-size="30" fill="#fff" font-weight="bold" font-style="italic" textLength="279.0" lengthAdjust="spacingAndGlyphs" >Reporting company</text>
<text x="1281.0" y="1257.0" font-size="30" fill="#fff" font-weight="bold" font-style="italic" textLength="326.0" lengthAdjust="spacingAndGlyphs" >Downstream activities</text>
<text x="170.0" y="757.5" font-size="21.5" fill="#58585a" font-weight="normal" font-style="normal" textLength="94.0" lengthAdjust="spacingAndGlyphs" stroke="#58585a" stroke-width="0.35">purchased</text>
<text x="170.0" y="781.5" font-size="21.5" fill="#58585a" font-weight="normal" font-style="normal" textLength="94.0" lengthAdjust="spacingAndGlyphs" stroke="#58585a" stroke-width="0.35">goods and</text>
<text x="181.0" y="806.5" font-size="21.5" fill="#58585a" font-weight="normal" font-style="normal" textLength="73.0" lengthAdjust="spacingAndGlyphs" stroke="#58585a" stroke-width="0.35">services</text>
<text x="185.0" y="927.0" font-size="21.5" fill="#58585a" font-weight="normal" font-style="normal" textLength="61.5" lengthAdjust="spacingAndGlyphs" stroke="#58585a" stroke-width="0.35">capital</text>
<text x="187.5" y="950.5" font-size="21.5" fill="#58585a" font-weight="normal" font-style="normal" textLength="56.5" lengthAdjust="spacingAndGlyphs" stroke="#58585a" stroke-width="0.35">goods</text>
<text x="254.0" y="1003.5" font-size="21.5" fill="#58585a" font-weight="normal" font-style="normal" textLength="74.0" lengthAdjust="spacingAndGlyphs" stroke="#58585a" stroke-width="0.35">fuel and</text>
<text x="224.0" y="1028.0" font-size="21.5" fill="#58585a" font-weight="normal" font-style="normal" textLength="134.0" lengthAdjust="spacingAndGlyphs" stroke="#58585a" stroke-width="0.35">energy related</text>
<text x="250.0" y="1053.5" font-size="21.5" fill="#58585a" font-weight="normal" font-style="normal" textLength="81.5" lengthAdjust="spacingAndGlyphs" stroke="#58585a" stroke-width="0.35">activities</text>
<text x="339.0" y="1112.5" font-size="21.5" fill="#58585a" font-weight="normal" font-style="normal" textLength="130.0" lengthAdjust="spacingAndGlyphs" stroke="#58585a" stroke-width="0.35">transportation</text>
<text x="333.0" y="1137.5" font-size="21.5" fill="#58585a" font-weight="normal" font-style="normal" textLength="142.0" lengthAdjust="spacingAndGlyphs" stroke="#58585a" stroke-width="0.35">and distribution</text>
<text x="524.0" y="1135.0" font-size="21.5" fill="#58585a" font-weight="normal" font-style="normal" textLength="54.5" lengthAdjust="spacingAndGlyphs" stroke="#58585a" stroke-width="0.35">waste</text>
<text x="493.5" y="1159.5" font-size="21.5" fill="#58585a" font-weight="normal" font-style="normal" textLength="116.5" lengthAdjust="spacingAndGlyphs" stroke="#58585a" stroke-width="0.35">generated in</text>
<text x="502.5" y="1184.0" font-size="21.5" fill="#58585a" font-weight="normal" font-style="normal" textLength="99.0" lengthAdjust="spacingAndGlyphs" stroke="#58585a" stroke-width="0.35">operations</text>
<text x="616.5" y="1061.5" font-size="21.5" fill="#58585a" font-weight="normal" font-style="normal" textLength="78.5" lengthAdjust="spacingAndGlyphs" stroke="#58585a" stroke-width="0.35">business</text>
<text x="629.0" y="1086.5" font-size="21.5" fill="#58585a" font-weight="normal" font-style="normal" textLength="53.5" lengthAdjust="spacingAndGlyphs" stroke="#58585a" stroke-width="0.35">travel</text>
<text x="697.5" y="976.0" font-size="21.5" fill="#58585a" font-weight="normal" font-style="normal" textLength="90.0" lengthAdjust="spacingAndGlyphs" stroke="#58585a" stroke-width="0.35">employee</text>
<text x="691.0" y="1000.5" font-size="21.5" fill="#58585a" font-weight="normal" font-style="normal" textLength="103.0" lengthAdjust="spacingAndGlyphs" stroke="#58585a" stroke-width="0.35">commuting</text>
<text x="710.0" y="870.0" font-size="21.5" fill="#58585a" font-weight="normal" font-style="normal" textLength="121.0" lengthAdjust="spacingAndGlyphs" stroke="#58585a" stroke-width="0.35">leased assets</text>
<text x="942.0" y="885.0" font-size="21.5" fill="#58585a" font-weight="normal" font-style="normal" textLength="82.5" lengthAdjust="spacingAndGlyphs" stroke="#58585a" stroke-width="0.35">company</text>
<text x="944.5" y="910.0" font-size="21.5" fill="#58585a" font-weight="normal" font-style="normal" textLength="77.5" lengthAdjust="spacingAndGlyphs" stroke="#58585a" stroke-width="0.35">facilities</text>
<text x="929.5" y="1076.5" font-size="21.5" fill="#58585a" font-weight="normal" font-style="normal" textLength="82.5" lengthAdjust="spacingAndGlyphs" stroke="#58585a" stroke-width="0.35">company</text>
<text x="934.5" y="1101.5" font-size="21.5" fill="#58585a" font-weight="normal" font-style="normal" textLength="73.5" lengthAdjust="spacingAndGlyphs" stroke="#58585a" stroke-width="0.35">vehicles</text>
<text x="1102.0" y="792.5" font-size="21.5" fill="#58585a" font-weight="normal" font-style="normal" textLength="130.0" lengthAdjust="spacingAndGlyphs" stroke="#58585a" stroke-width="0.35">transportation</text>
<text x="1096.0" y="817.0" font-size="21.5" fill="#58585a" font-weight="normal" font-style="normal" textLength="142.0" lengthAdjust="spacingAndGlyphs" stroke="#58585a" stroke-width="0.35">and distribution</text>
<text x="1118.0" y="976.5" font-size="21.5" fill="#58585a" font-weight="normal" font-style="normal" textLength="124.0" lengthAdjust="spacingAndGlyphs" stroke="#58585a" stroke-width="0.35">processing of</text>
<text x="1117.0" y="1001.5" font-size="21.5" fill="#58585a" font-weight="normal" font-style="normal" textLength="125.0" lengthAdjust="spacingAndGlyphs" stroke="#58585a" stroke-width="0.35">sold products</text>
<text x="1245.5" y="1092.5" font-size="21.5" fill="#58585a" font-weight="normal" font-style="normal" textLength="99.0" lengthAdjust="spacingAndGlyphs" stroke="#58585a" stroke-width="0.35">use of sold</text>
<text x="1254.5" y="1117.5" font-size="21.5" fill="#58585a" font-weight="normal" font-style="normal" textLength="81.5" lengthAdjust="spacingAndGlyphs" stroke="#58585a" stroke-width="0.35">products</text>
<text x="1407.0" y="1131.5" font-size="21.5" fill="#58585a" font-weight="normal" font-style="normal" textLength="92.5" lengthAdjust="spacingAndGlyphs" stroke="#58585a" stroke-width="0.35">end-of-life</text>
<text x="1396.0" y="1156.5" font-size="21.5" fill="#58585a" font-weight="normal" font-style="normal" textLength="115.0" lengthAdjust="spacingAndGlyphs" stroke="#58585a" stroke-width="0.35">treatment of</text>
<text x="1392.5" y="1181.5" font-size="21.5" fill="#58585a" font-weight="normal" font-style="normal" textLength="121.0" lengthAdjust="spacingAndGlyphs" stroke="#58585a" stroke-width="0.35">sold products</text>
<text x="1543.0" y="1081.0" font-size="21.5" fill="#58585a" font-weight="normal" font-style="normal" textLength="121.5" lengthAdjust="spacingAndGlyphs" stroke="#58585a" stroke-width="0.35">leased assets</text>
<text x="1657.0" y="956.0" font-size="21.5" fill="#58585a" font-weight="normal" font-style="normal" textLength="93.5" lengthAdjust="spacingAndGlyphs" stroke="#58585a" stroke-width="0.35">franchises</text>
<text x="1661.0" y="845.0" font-size="21.5" fill="#58585a" font-weight="normal" font-style="normal" textLength="112.0" lengthAdjust="spacingAndGlyphs" stroke="#58585a" stroke-width="0.35">investments</text>
<text x="418.0" y="829.0" font-size="16.5" fill="#545456" font-weight="normal" font-style="normal" textLength="221.0" lengthAdjust="spacingAndGlyphs" stroke="#545456" stroke-width="0.3">purchased electricity, steam,</text>
<text x="418.0" y="847.5" font-size="16.5" fill="#545456" font-weight="normal" font-style="normal" textLength="230.0" lengthAdjust="spacingAndGlyphs" stroke="#545456" stroke-width="0.3">heating &amp; cooling for own use</text>
</svg>
</body></html>
